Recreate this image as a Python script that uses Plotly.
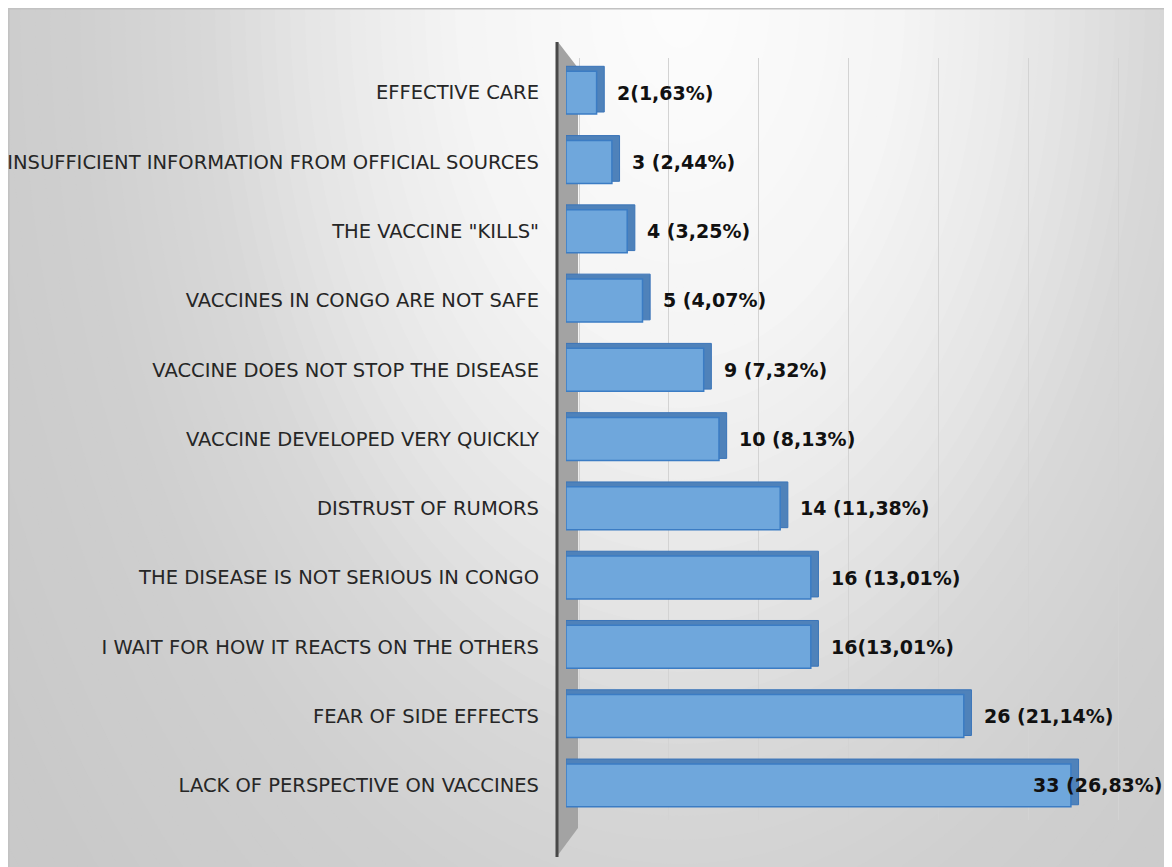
import plotly.graph_objects as go

# ---------------- data ----------------
categories = [
    "EFFECTIVE CARE",
    "INSUFFICIENT INFORMATION FROM OFFICIAL SOURCES",
    'THE VACCINE "KILLS"',
    "VACCINES IN CONGO ARE NOT SAFE",
    "VACCINE DOES NOT STOP THE DISEASE",
    "VACCINE DEVELOPED VERY QUICKLY",
    "DISTRUST OF RUMORS",
    "THE DISEASE IS NOT SERIOUS IN CONGO",
    "I WAIT FOR HOW IT REACTS ON THE OTHERS",
    "FEAR OF SIDE EFFECTS",
    "LACK OF PERSPECTIVE ON VACCINES",
]
counts = [2, 3, 4, 5, 9, 10, 14, 16, 16, 26, 33]
value_labels = [
    "2(1,63%)", "3 (2,44%)", "4 (3,25%)", "5 (4,07%)", "9 (7,32%)",
    "10 (8,13%)", "14 (11,38%)", "16 (13,01%)", "16(13,01%)",
    "26 (21,14%)", "33 (26,83%)",
]

# ---------------- layout geometry (page body adds an 8px offset) ----------------
OFF = 8
W, H = 1164, 859
ML, MR, MT, MB = 558, 12, 50, 47
PW, PH = W - ML - MR, H - MT - MB
PX_PER_UNIT = 15.3
XMAX = PW / PX_PER_UNIT


def fx(p):  # p: page pixel x
    return (p - OFF - ML) / PW


def fy(p):  # p: page pixel y
    return 1 - (p - OFF - MT) / PH


shapes = []

# background gradient (light at top centre, grey outward)
stops = [(0, 253), (220, 245), (340, 234), (480, 216), (620, 207), (820, 201), (1400, 196)]


def shade(d):
    for (d0, c0), (d1, c1) in zip(stops, stops[1:]):
        if d <= d1:
            t = (d - d0) / (d1 - d0)
            return round(c0 + (c1 - c0) * t)
    return stops[-1][1]


cx, cy = 680, 0
for r in range(1500, 0, -15):
    c = shade(r)
    shapes.append(dict(type="circle", xref="paper", yref="paper", layer="below",
                       x0=fx(cx - r), x1=fx(cx + r), y0=fy(cy + 1.6 * r), y1=fy(cy - 1.6 * r),
                       fillcolor=f"rgb({c},{c},{c})", line=dict(width=0)))

# frame lines (top / left)
shapes.append(dict(type="line", xref="paper", yref="paper", layer="below",
                   x0=fx(8), x1=fx(1180), y0=fy(8.7), y1=fy(8.7), line=dict(color="#c2c2c2", width=1.5)))
shapes.append(dict(type="line", xref="paper", yref="paper", layer="below",
                   x0=fx(8.7), x1=fx(8.7), y0=fy(8), y1=fy(880), line=dict(color="#c2c2c2", width=1.5)))

# 3D side wall of the category axis
wall = f"M {fx(558)},{fy(42)} L {fx(578)},{fy(68)} L {fx(578)},{fy(828)} L {fx(558)},{fy(855)} Z"
shapes.append(dict(type="path", xref="paper", yref="paper", layer="below", path=wall,
                   fillcolor="#a3a3a3", line=dict(width=0)))
shapes.append(dict(type="line", xref="paper", yref="paper", layer="below",
                   x0=fx(557), x1=fx(557), y0=fy(42), y1=fy(857), line=dict(color="#484848", width=3)))

fig = go.Figure()

# depth (3D side/top faces)
fig.add_trace(go.Bar(
    y=categories, x=[v + 0.5 for v in counts], orientation="h",
    width=0.66, offset=-0.38,
    marker=dict(color="#4f82ba", line=dict(color="#3a74b8", width=1)),
    hoverinfo="skip", showlegend=False,
))
# front faces
fig.add_trace(go.Bar(
    y=categories, x=counts, orientation="h",
    width=0.62, offset=-0.31,
    marker=dict(color="#6fa7dc", line=dict(color="#3b7cc4", width=1.5)),
    showlegend=False,
))

LABEL_FONT = dict(family="DejaVu Sans", size=19, color="#111111", weight="bold")
annotations = []
for cat, v, lab in zip(categories, counts, value_labels):
    right_px = ML + v * PX_PER_UNIT
    est_w = len(lab) * 12.3
    if right_px + 18 + est_w > W - 4:
        annotations.append(dict(x=v, y=cat, xref="x", yref="y", text=lab, showarrow=False,
                                xanchor="right", xshift=(W - 7) - right_px, font=LABEL_FONT))
    else:
        annotations.append(dict(x=v, y=cat, xref="x", yref="y", text=lab, showarrow=False,
                                xanchor="left", xshift=18, font=LABEL_FONT))

fig.update_layout(
    width=W, height=H,
    margin=dict(l=ML, r=MR, t=MT, b=MB, autoexpand=False),
    paper_bgcolor="white", plot_bgcolor="rgba(0,0,0,0)",
    barmode="overlay",
    shapes=shapes, annotations=annotations,
    xaxis=dict(range=[0, XMAX], showticklabels=False, ticks="", zeroline=False,
               showgrid=True, gridcolor="#d3d3d3", gridwidth=1.2, tick0=6.73, dtick=5.88,
               showline=False, fixedrange=True),
    yaxis=dict(autorange="reversed", ticks="", showline=False, showgrid=False,
               tickfont=dict(family="DejaVu Sans", size=19.5, color="#262626"),
               ticklabelstandoff=26, automargin=False, fixedrange=True),
)

fig.write_html("out.html")
